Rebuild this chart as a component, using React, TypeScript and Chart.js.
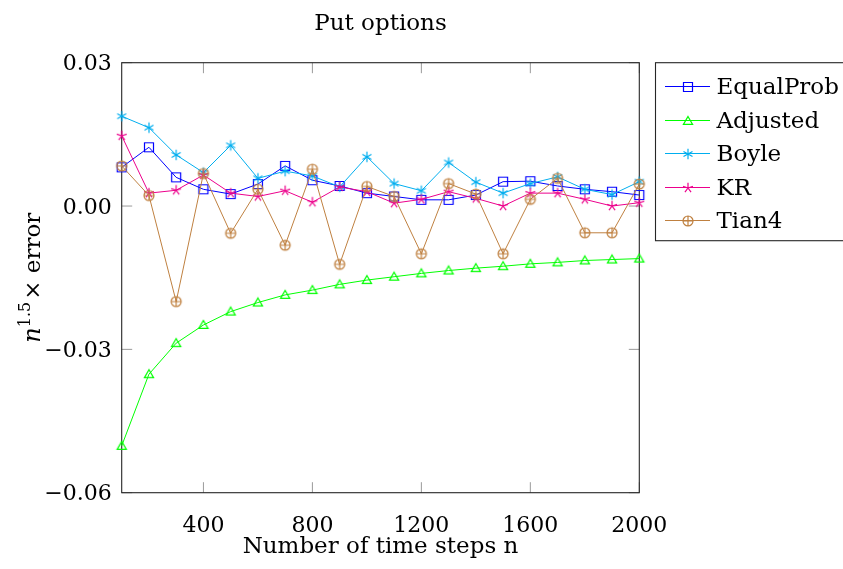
import React, { useEffect, useRef } from "react";
import { Chart, registerables } from "chart.js";

Chart.register(...registerables);

// ---------- data ----------
const nSteps = [100, 200, 300, 400, 500, 600, 700, 800, 900, 1000, 1100, 1200, 1300, 1400, 1500, 1600, 1700, 1800, 1900, 2000];
const equalProb = [0.0081, 0.0123, 0.0060, 0.0035, 0.0025, 0.0046, 0.0084, 0.0054, 0.0042, 0.0027, 0.0020, 0.0013, 0.0013, 0.0023, 0.0051, 0.0052, 0.0042, 0.0035, 0.0030, 0.0023];
const adjusted = [-0.0502, -0.0352, -0.0287, -0.0249, -0.0221, -0.0202, -0.0186, -0.0176, -0.0164, -0.0155, -0.0148, -0.0141, -0.0135, -0.0130, -0.0126, -0.0121, -0.0118, -0.0114, -0.0112, -0.0110];
const boyle = [0.0188, 0.0164, 0.0107, 0.0070, 0.0127, 0.0058, 0.0073, 0.0063, 0.0040, 0.0103, 0.0047, 0.0032, 0.0091, 0.0050, 0.0027, 0.0047, 0.0061, 0.0035, 0.0024, 0.0051];
const kr = [0.0147, 0.0027, 0.0033, 0.0065, 0.0027, 0.0020, 0.0032, 0.0008, 0.0040, 0.0030, 0.0006, 0.0014, 0.0030, 0.0016, 0.0000, 0.0027, 0.0027, 0.0014, 0.0000, 0.0007];
const tian4 = [0.0084, 0.0022, -0.0200, 0.0068, -0.0057, 0.0035, -0.0082, 0.0077, -0.0122, 0.0041, 0.0020, -0.0100, 0.0047, 0.0025, -0.0100, 0.0014, 0.0058, -0.0056, -0.0056, 0.0046];

const xTicks = [400, 800, 1200, 1600, 2000];
const yTicks = [-0.06, -0.03, 0, 0.03];

const seriesNames = ["EqualProb", "Adjusted", "Boyle", "KR", "Tian4"];
const seriesValues = [equalProb, adjusted, boyle, kr, tian4];
const seriesColors = ["#0000ff", "#00ff00", "#00aeef", "#ec008c", "#bf8040"];
const seriesMarkers = ["square", "triangle", "asterisk", "star", "oplus"];

const TITLE = "Put options";
const XLABEL = "Number of time steps n";

const FONT = "'DejaVu Serif', serif";

function makeMarker(kind: string, color: string): HTMLCanvasElement {
  const s = 16;
  const c = document.createElement("canvas");
  c.width = s;
  c.height = s;
  const ctx = c.getContext("2d")!;
  ctx.strokeStyle = color;
  ctx.lineWidth = 1.2;
  const m = s / 2;
  ctx.beginPath();
  if (kind === "square") {
    ctx.rect(m - 4.5, m - 4.5, 9, 9);
  } else if (kind === "triangle") {
    const r = 5.3;
    for (let k = 0; k < 3; k++) {
      const a = -Math.PI / 2 + (k * 2 * Math.PI) / 3;
      const px = m + r * Math.cos(a);
      const py = m + 0.8 + r * Math.sin(a);
      if (k === 0) ctx.moveTo(px, py);
      else ctx.lineTo(px, py);
    }
    ctx.closePath();
  } else if (kind === "asterisk") {
    const r = 5.2;
    for (let k = 0; k < 3; k++) {
      const a = Math.PI / 2 + (k * Math.PI) / 3;
      ctx.moveTo(m - r * Math.cos(a), m - r * Math.sin(a));
      ctx.lineTo(m + r * Math.cos(a), m + r * Math.sin(a));
    }
  } else if (kind === "star") {
    const r = 5.2;
    for (let k = 0; k < 5; k++) {
      const a = -Math.PI / 2 + (k * 2 * Math.PI) / 5;
      ctx.moveTo(m, m);
      ctx.lineTo(m + r * Math.cos(a), m + r * Math.sin(a));
    }
  } else if (kind === "oplus") {
    const r = 5;
    ctx.arc(m, m, r, 0, Math.PI * 2);
    ctx.moveTo(m - r, m);
    ctx.lineTo(m + r, m);
    ctx.moveTo(m, m - r);
    ctx.lineTo(m, m + r);
  }
  ctx.stroke();
  return c;
}

function fmtY(v: number): string {
  if (Math.abs(v) < 1e-9) return "0.00";
  return (v < 0 ? "\u2212" : "") + Math.abs(v).toFixed(2);
}

export default function App() {
  const ref = useRef<HTMLCanvasElement | null>(null);

  useEffect(() => {
    const canvas = ref.current;
    if (!canvas) return;
    const markers = seriesMarkers.map((k, i) => makeMarker(k, seriesColors[i]));

    const datasets = seriesNames.map((name, i) => ({
      label: name,
      data: nSteps.map((n, j) => ({ x: n, y: seriesValues[i][j] })),
      borderColor: seriesColors[i],
      backgroundColor: seriesColors[i],
      borderWidth: 1,
      pointStyle: markers[i],
      pointRadius: 5,
      pointHoverRadius: 5,
      tension: 0,
      fill: false,
      clip: false as any,
      order: seriesNames.length - i,
    }));

    const decor = {
      id: "decor",
      beforeDatasetsDraw(chart: any) {
        const ctx = chart.ctx;
        const a = chart.chartArea;
        const xs = chart.scales.x;
        const ys = chart.scales.y;
        ctx.save();
        // tick marks (inward, mirrored)
        ctx.strokeStyle = "#9a9a9a";
        ctx.lineWidth = 1;
        const tl = 10.5;
        ctx.beginPath();
        xTicks.forEach((v) => {
          const px = xs.getPixelForValue(v);
          ctx.moveTo(px, a.bottom);
          ctx.lineTo(px, a.bottom - tl);
          ctx.moveTo(px, a.top);
          ctx.lineTo(px, a.top + tl);
        });
        yTicks.forEach((v) => {
          const py = ys.getPixelForValue(v);
          ctx.moveTo(a.left, py);
          ctx.lineTo(a.left + tl, py);
          ctx.moveTo(a.right, py);
          ctx.lineTo(a.right - tl, py);
        });
        ctx.stroke();
        // frame
        ctx.strokeStyle = "#262626";
        ctx.lineWidth = 1.1;
        ctx.strokeRect(a.left, a.top, a.right - a.left, a.bottom - a.top);
        ctx.restore();
      },
      afterDraw(chart: any) {
        const ctx = chart.ctx;
        const a = chart.chartArea;
        const cx = (a.left + a.right) / 2;
        const cy = (a.top + a.bottom) / 2;
        ctx.save();
        ctx.fillStyle = "#000";
        ctx.textBaseline = "alphabetic";
        // title
        ctx.font = `23px ${FONT}`;
        ctx.textAlign = "center";
        ctx.fillText(TITLE, cx, 30);
        // x label
        ctx.fillText(XLABEL, cx, 552.5);
        // y label (rotated)
        ctx.textAlign = "left";
        const fN = `italic 24px ${FONT}`;
        const fSup = `16px ${FONT}`;
        const fR = `23px ${FONT}`;
        ctx.font = fN;
        const wN = ctx.measureText("n").width;
        ctx.font = fSup;
        const wS = ctx.measureText("1.5").width;
        ctx.font = fR;
        const wT = ctx.measureText("\u00d7 error").width;
        const gap = 2;
        const total = wN + wS + gap + wT;
        ctx.translate(39.5, cy);
        ctx.rotate(-Math.PI / 2);
        let x0 = -total / 2;
        ctx.font = fN;
        ctx.fillText("n", x0, 0);
        x0 += wN;
        ctx.font = fSup;
        ctx.fillText("1.5", x0, -9.5);
        x0 += wS + gap;
        ctx.font = fR;
        ctx.fillText("\u00d7 error", x0, 0);
        ctx.restore();

        // legend
        ctx.save();
        const lx = 655.5;
        const ly = 62.7;
        const lh = 178;
        ctx.fillStyle = "#ffffff";
        ctx.fillRect(lx, ly, 200, lh);
        ctx.strokeStyle = "#262626";
        ctx.lineWidth = 1.1;
        ctx.strokeRect(lx, ly, 200, lh);
        ctx.font = `23px ${FONT}`;
        ctx.textAlign = "left";
        ctx.textBaseline = "alphabetic";
        seriesNames.forEach((name, i) => {
          const ry = Math.round(86 + i * 33.5) + 0.5;
          ctx.strokeStyle = seriesColors[i];
          ctx.lineWidth = 1;
          ctx.beginPath();
          ctx.moveTo(665, ry);
          ctx.lineTo(710, ry);
          ctx.stroke();
          const mk = markers[i];
          ctx.drawImage(mk, Math.round(687.5 - mk.width / 2), Math.round(ry - mk.height / 2));
          ctx.fillStyle = "#000";
          ctx.fillText(name, 716.5, ry + 7.5);
        });
        ctx.restore();
      },
    };

    const chart = new Chart(canvas, {
      type: "line",
      data: { datasets: datasets as any },
      options: {
        responsive: false,
        animation: false,
        devicePixelRatio: 1,
        layout: { padding: { top: 62.7, right: 843 - 639.3, left: 0, bottom: 0 } },
        plugins: {
          legend: { display: false },
          title: { display: false },
          tooltip: { enabled: false },
        },
        scales: {
          x: {
            type: "linear",
            min: 100,
            max: 2000,
            afterFit: (s: any) => {
              s.height = 569 - 492.7;
            },
            afterBuildTicks: (s: any) => {
              s.ticks = xTicks.map((v) => ({ value: v }));
            },
            grid: { display: false, drawTicks: false },
            border: { display: false },
            ticks: {
              font: { family: FONT, size: 22 },
              color: "#000",
              padding: 20,
              maxRotation: 0,
              autoSkip: false,
              callback: (v: any) => String(v),
            },
          },
          y: {
            type: "linear",
            min: -0.06,
            max: 0.03,
            afterFit: (s: any) => {
              s.width = 121.7;
            },
            afterBuildTicks: (s: any) => {
              s.ticks = yTicks.map((v) => ({ value: v }));
            },
            grid: { display: false, drawTicks: false },
            border: { display: false },
            ticks: {
              font: { family: FONT, size: 22 },
              color: "#000",
              padding: 10,
              labelOffset: 2,
              autoSkip: false,
              callback: (v: any) => fmtY(Number(v)),
            },
          },
        },
      },
      plugins: [decor],
    });
    return () => chart.destroy();
  }, []);

  return (
    <div style={{ position: "absolute", left: 0, top: 0, width: 843, height: 569, background: "#fff" }}>
      <canvas ref={ref} width={843} height={569} style={{ display: "block", width: 843, height: 569 }} />
    </div>
  );
}
